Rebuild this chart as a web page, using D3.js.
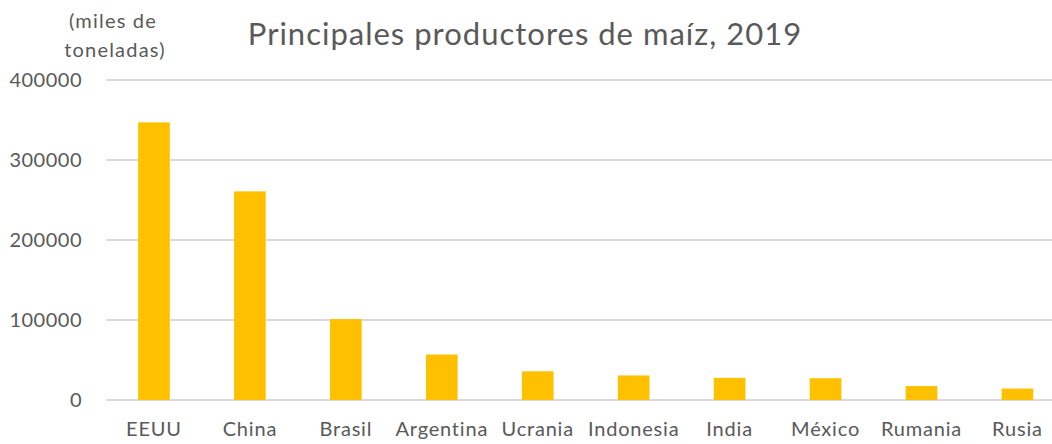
<!DOCTYPE html>
<html><head><meta charset="utf-8">
<script src="https://cdn.jsdelivr.net/npm/d3@7"></script>
<style>body{margin:0;background:#fff}svg{display:block}text{font-family:Lato,"Open Sans",sans-serif;fill:#595959}</style>
</head><body><svg id="c" width="1052" height="444"></svg>
<script>
const categories = ["EEUU","China","Brasil","Argentina","Ucrania","Indonesia","India","México","Rumania","Rusia"];
const values = [347048,260779,101139,56861,35880,30693,27715,27228,17432,14275];
const yTicks = [0,100000,200000,300000,400000];
const title = "Principales productores de maíz, 2019";
const unitLines = ["(miles de","toneladas)"];

const svg = d3.select("#c");
const plotLeft = 106, step = 95.94, plotTop = 80, plotBottom = 400;
const x = d3.scaleBand().domain(categories).range([plotLeft, plotLeft + step*categories.length]).paddingInner(0.67).paddingOuter(0.335);
const y = d3.scaleLinear().domain([0,400000]).range([plotBottom, plotTop]);

svg.append("g").selectAll("line").data(yTicks).join("line")
  .attr("x1", plotLeft).attr("x2", 1052).attr("y1", d=>y(d)).attr("y2", d=>y(d))
  .attr("stroke","#d9d9d9").attr("stroke-width",1.8);

svg.append("g").selectAll("rect").data(values).join("rect")
  .attr("x",(d,i)=>x(categories[i])).attr("width",x.bandwidth())
  .attr("y",d=>y(d)).attr("height",d=>y(0)-y(d)).attr("fill","#FFC000");

const yAxis = d3.axisLeft(y).tickValues(yTicks).tickSize(0).tickPadding(0).tickFormat(d3.format("d"));
const ga = svg.append("g").attr("transform","translate(82,0)").call(yAxis);
ga.select(".domain").remove();
ga.selectAll("text").attr("font-size",20).attr("font-family","Lato").attr("fill","#595959").attr("letter-spacing","0.5px");

const xAxis = d3.axisBottom(x).tickSize(0).tickPadding(0);
const gx = svg.append("g").attr("transform","translate(0,422)").call(xAxis);
gx.select(".domain").remove();
gx.selectAll("text").attr("font-size",20).attr("font-family","Lato").attr("fill","#595959").attr("dy","0.71em").attr("letter-spacing","0.8px");

svg.append("text").attr("x",525).attr("y",45).attr("text-anchor","middle").attr("font-size",31).attr("letter-spacing","1px").text(title);
svg.append("g").selectAll("text").data(unitLines).join("text")
  .attr("x",(d,i)=>i?115:113).attr("y",(d,i)=>28+i*29).attr("text-anchor","middle").attr("font-size",20).attr("letter-spacing","1.2px").text(d=>d);
</script></body></html>
